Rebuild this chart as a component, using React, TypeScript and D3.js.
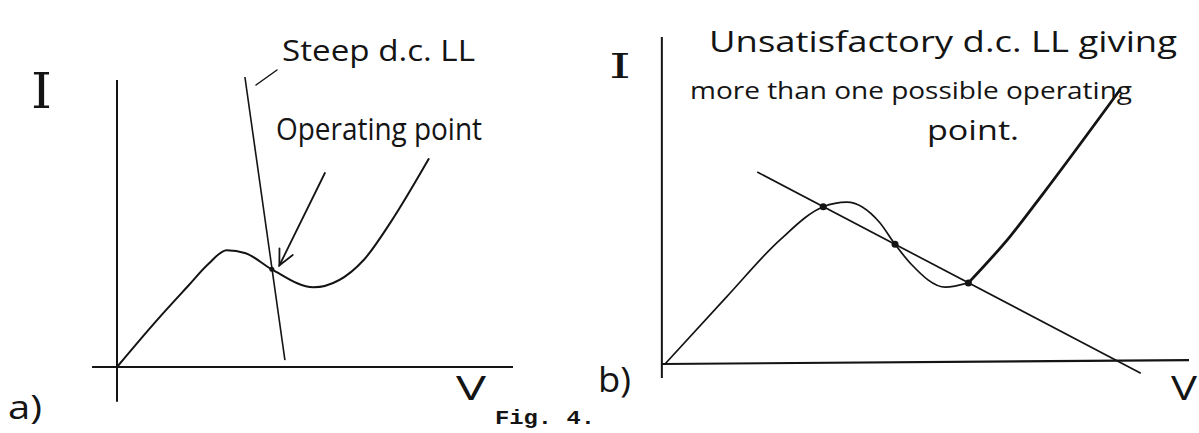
import React from "react";
import * as d3 from "d3";

// Panel (a): device characteristic I(V) with a steep d.c. load line
const curveA: [number, number][] = [
  [0, 0], [10, 16], [18, 28], [23, 35.4], [27.7, 40.3], [32.5, 39.2],
  [39.1, 33.7], [49.6, 27.5], [62.3, 36.9], [69.0, 49.7], [78.7, 71.7],
];
const loadLineA: [number, number][] = [[32.3, 100], [42.4, 2.4]];
const opPointA: [number, number] = [39.1, 33.7];
const arrowA: [number, number][] = [[52.5, 66.9], [41.0, 35.0]];

// Panel (b): same characteristic with a shallow load line crossing it three times
const curveB1: [number, number][] = [
  [0, 0], [11.8, 20.6], [21.9, 37.9], [30.2, 48.1], [34.7, 49.5], [41.0, 43.2],
  [43.9, 36.6], [47.0, 30.5], [53.5, 23.5], [57.9, 24.8],
];
const curveB2: [number, number][] = [
  [57.9, 24.8], [65.8, 38.9], [72.2, 52.2], [86.8, 83.8],
];
const loadLineB: [number, number][] = [[17.6, 58.7], [90.8, -2.8]];
const opPointsB: [number, number][] = [[30.2, 48.1], [43.9, 36.6], [57.9, 24.8]];

const INK = "#141414";
const HAND = "'Open Sans', 'DejaVu Sans', sans-serif";

const xA = d3.scaleLinear().domain([0, 100]).range([117, 513]);
const yA = d3.scaleLinear().domain([0, 100]).range([367, 77]);
const xB = d3.scaleLinear().domain([0, 100]).range([665, 1189]);
const yB = d3.scaleLinear().domain([0, 100]).range([364, 37]);

function pathFor(
  pts: [number, number][],
  x: d3.ScaleLinear<number, number>,
  y: d3.ScaleLinear<number, number>,
  smooth = true
) {
  const gen = d3
    .line<[number, number]>()
    .x((d) => x(d[0]))
    .y((d) => y(d[1]));
  if (smooth) gen.curve(d3.curveMonotoneX);
  return gen(pts) || "";
}

export default function App() {
  // arrowhead wings for the "Operating point" pointer
  const tip = [xA(arrowA[1][0]), yA(arrowA[1][1])];
  const tail = [xA(arrowA[0][0]), yA(arrowA[0][1])];
  const ang = Math.atan2(tail[1] - tip[1], tail[0] - tip[0]);
  const wing = 17;
  const spread = 0.45;
  const w1 = [tip[0] + wing * Math.cos(ang - spread), tip[1] + wing * Math.sin(ang - spread)];
  const w2 = [tip[0] + wing * Math.cos(ang + spread), tip[1] + wing * Math.sin(ang + spread)];

  return (
    <svg
      width={1199}
      height={433}
      viewBox="0 0 1199 433"
      style={{ position: "absolute", left: 0, top: 0, background: "#fff" }}
    >
      <rect width={1199} height={433} fill="#fff" />

      {/* ---------- panel (a) ---------- */}
      <g>
        <line x1={xA(0)} y1={yA(-12)} x2={xA(0)} y2={yA(99)} stroke={INK} strokeWidth={2} />
        <line x1={xA(-6.3)} y1={yA(0)} x2={xA(100)} y2={yA(0)} stroke={INK} strokeWidth={2.2} />
        <path d={pathFor(curveA, xA, yA)} fill="none" stroke={INK} strokeWidth={2} strokeLinecap="round" />
        <path d={pathFor(loadLineA, xA, yA, false)} fill="none" stroke={INK} strokeWidth={1.6} />
        <circle cx={xA(opPointA[0])} cy={yA(opPointA[1])} r={2.5} fill={INK} />
        <line x1={tail[0]} y1={tail[1]} x2={tip[0]} y2={tip[1]} stroke={INK} strokeWidth={1.8} strokeLinecap="round" />
        <polyline
          points={`${w1[0]},${w1[1]} ${tip[0]},${tip[1]} ${w2[0]},${w2[1]}`}
          fill="none"
          stroke={INK}
          strokeWidth={1.8}
          strokeLinecap="round"
        />
        {/* leader from the load-line label */}
        <line x1={256} y1={85} x2={277} y2={70} stroke={INK} strokeWidth={1.5} strokeLinecap="round" />

        <text x={31} y={108} fontFamily="'DejaVu Serif', serif" fontSize={48} fill={INK} textLength={21} lengthAdjust="spacingAndGlyphs">I</text>
        <text x={456} y={400} fontFamily={HAND} fontSize={32} fill={INK} textLength={30} lengthAdjust="spacingAndGlyphs">V</text>
        <text x={282} y={61} fontFamily={HAND} fontSize={29} fill={INK} textLength={193} lengthAdjust="spacingAndGlyphs">Steep d.c. LL</text>
        <text x={276} y={140} fontFamily={HAND} fontSize={31} fill={INK} textLength={206} lengthAdjust="spacingAndGlyphs">Operating point</text>
        <text x={8} y={419} fontFamily={HAND} fontSize={32} fill={INK} textLength={34} lengthAdjust="spacingAndGlyphs">a)</text>
      </g>

      {/* ---------- panel (b) ---------- */}
      <g>
        <line x1={xB(-0.6)} y1={yB(-4.3)} x2={xB(-0.6)} y2={yB(100)} stroke={INK} strokeWidth={2} />
        <line x1={xB(-0.6)} y1={yB(0)} x2={xB(100)} y2={yB(1.2)} stroke={INK} strokeWidth={2.2} />
        <path d={pathFor(curveB1, xB, yB)} fill="none" stroke={INK} strokeWidth={1.7} strokeLinecap="round" />
        <path d={pathFor(curveB2, xB, yB)} fill="none" stroke={INK} strokeWidth={2.8} strokeLinecap="round" />
        <path d={pathFor(loadLineB, xB, yB, false)} fill="none" stroke={INK} strokeWidth={1.7} />
        {opPointsB.map((p, i) => (
          <circle key={i} cx={xB(p[0])} cy={yB(p[1])} r={3.5} fill={INK} />
        ))}

        <text x={609} y={78} fontFamily="'DejaVu Serif', serif" fontSize={34} fill={INK} textLength={22} lengthAdjust="spacingAndGlyphs">I</text>
        <text x={1171} y={400} fontFamily={HAND} fontSize={32} fill={INK} textLength={26} lengthAdjust="spacingAndGlyphs">V</text>
        <text x={709} y={52} fontFamily={HAND} fontSize={30} fill={INK} textLength={468} lengthAdjust="spacingAndGlyphs">Unsatisfactory d.c. LL giving</text>
        <text x={690} y={99} fontFamily={HAND} fontSize={24} fill={INK} textLength={442} lengthAdjust="spacingAndGlyphs">more than one possible operating</text>
        <text x={927} y={140} fontFamily={HAND} fontSize={28} fill={INK} textLength={92} lengthAdjust="spacingAndGlyphs">point.</text>
        <text x={598} y={392} fontFamily={HAND} fontSize={34} fill={INK} textLength={33} lengthAdjust="spacingAndGlyphs">b)</text>
      </g>

      {/* caption */}
      <text x={495} y={424} fontFamily="'Liberation Mono', monospace" fontWeight="bold" fontSize={20} fill={INK} textLength={100} lengthAdjust="spacingAndGlyphs">
        Fig. 4.
      </text>
    </svg>
  );
}
